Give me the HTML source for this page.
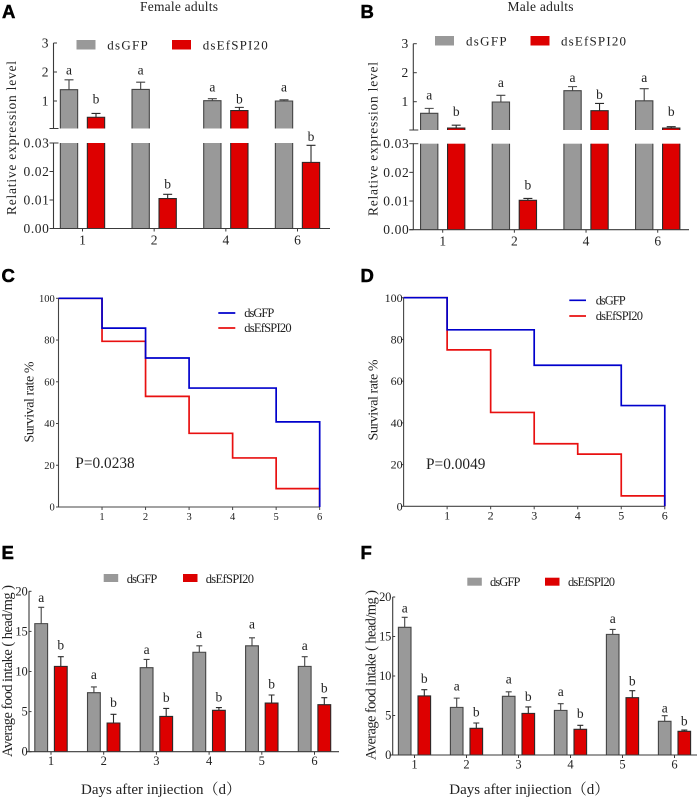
<!DOCTYPE html>
<html lang="en">
<head>
<meta charset="utf-8">
<title>Relative expression, survival and food intake charts</title>
<style>
html,body{margin:0;padding:0;background:#fff;width:700px;height:798px;overflow:hidden}
svg{display:block}
text{font-family:"Liberation Serif","Noto Serif CJK SC",serif;fill:#222}
.panel-letter{font-family:"Liberation Sans",sans-serif;font-weight:700;font-size:18.5px;fill:#000;stroke:#000;stroke-width:.5px}
</style>
</head>
<body>
<svg id="figure" xmlns="http://www.w3.org/2000/svg" width="700" height="798" viewBox="0 0 700 798">
  <rect width="700" height="798" fill="#fff"/>

  <text class="panel-letter" x="2" y="18">A</text>
  <text class="panel-letter" x="360.5" y="18">B</text>
  <text class="panel-letter" x="1.5" y="282">C</text>
  <text class="panel-letter" x="360.5" y="282">D</text>
  <text class="panel-letter" x="1.5" y="559">E</text>
  <text class="panel-letter" x="360.5" y="559">F</text>

  <text x="179" y="11" font-size="13.5" text-anchor="middle" textLength="78">Female adults</text>
  <text x="540.5" y="11" font-size="13.5" text-anchor="middle" textLength="66">Male adults</text>

  <!-- Y axis titles -->
  <text transform="rotate(-90 16 138)" x="16" y="138" font-size="13.5" text-anchor="middle" textLength="154">Relative expression level</text>
  <text transform="rotate(-90 377.5 139)" x="377.5" y="139" font-size="13.5" text-anchor="middle" textLength="154">Relative expression level</text>
  <text transform="rotate(-90 33.5 402)" x="33.5" y="402" font-size="14" text-anchor="middle" textLength="81">Survival rate %</text>
  <text transform="rotate(-90 377.5 400)" x="377.5" y="400" font-size="14" text-anchor="middle" textLength="81">Survival rate %</text>
  <text transform="rotate(-90 12 671)" x="12" y="671" font-size="14.5" text-anchor="middle" textLength="172">Average food intake ( head/mg )</text>
  <text transform="rotate(-90 375.5 675)" x="375.5" y="675" font-size="14.5" text-anchor="middle" textLength="170">Average food intake ( head/mg )</text>

  <!-- X axis titles -->
  <text x="81" y="794" font-size="15">Days after injiection（d）</text>
  <text x="449.3" y="794" font-size="15">Days after injiection（d）</text>

  <!-- Legends: bar panels -->
  <g>
    <rect x="76.5" y="40" width="19" height="9.5" fill="#999"/>
    <text x="107.3" y="49.5" font-size="13" textLength="40.4">dsGFP</text>
    <rect x="172" y="40" width="19" height="9.5" fill="#dd0000"/>
    <text x="202.7" y="49.5" font-size="13" textLength="65">dsEfSPI20</text>
  </g>
  <g>
    <rect x="435" y="36" width="19" height="9.5" fill="#999"/>
    <text x="466" y="45.5" font-size="13" textLength="40.6">dsGFP</text>
    <rect x="530.5" y="36" width="19" height="9.5" fill="#dd0000"/>
    <text x="561" y="45.5" font-size="13" textLength="65">dsEfSPI20</text>
  </g>
  <g>
    <rect x="103.7" y="574" width="14.5" height="8" fill="#999"/>
    <text x="126.7" y="583" font-size="12.5" textLength="30.6">dsGFP</text>
    <rect x="183" y="574" width="14.5" height="8" fill="#dd0000"/>
    <text x="205.7" y="583" font-size="12.5" textLength="48.3">dsEfSPI20</text>
  </g>
  <g>
    <rect x="467.3" y="577.7" width="14.5" height="8" fill="#999"/>
    <text x="490" y="586" font-size="12.5" textLength="30.4">dsGFP</text>
    <rect x="545" y="577.7" width="14.5" height="8" fill="#dd0000"/>
    <text x="568" y="586" font-size="12.5" textLength="47">dsEfSPI20</text>
  </g>

  <!-- Legends: survival panels -->
  <g>
    <line x1="218.3" x2="235.3" y1="313" y2="313" stroke="#0000cc" stroke-width="1.7"/>
    <text x="244.3" y="317" font-size="12.5" textLength="30">dsGFP</text>
    <line x1="218.3" x2="235.3" y1="328" y2="328" stroke="#e81010" stroke-width="1.7"/>
    <text x="244.3" y="332" font-size="12.5" textLength="47.3">dsEfSPI20</text>
  </g>
  <g>
    <line x1="569.3" x2="586" y1="300.3" y2="300.3" stroke="#0000cc" stroke-width="1.7"/>
    <text x="595.7" y="304.3" font-size="12.5" textLength="30">dsGFP</text>
    <line x1="569.3" x2="586" y1="316" y2="316" stroke="#e81010" stroke-width="1.7"/>
    <text x="595.7" y="320" font-size="12.5" textLength="47.3">dsEfSPI20</text>
  </g>

  <text x="75.3" y="468" font-size="15.3" textLength="59.4">P=0.0238</text>
  <text x="426" y="469" font-size="15.3" textLength="59.4">P=0.0049</text>

  <g id="marks"></g>
</svg>

<script>
// ---------- Panel A ----------
const aCategories = ['1', '2', '4', '6'];
const aGray = [1.39, 1.40, 1.01, 1.00];
const aGrayErr = [1.73, 1.65, 1.08, 1.04];
const aRed = [0.44, 0.0105, 0.67, 0.0232];
const aRedErr = [0.57, 0.012, 0.78, 0.0292];
const aGrayLetterAt = [2.03, 2.03, 1.45, 1.45];
const aRedLetterAt = [1.03, 0.0153, 1.03, 0.0319];

// ---------- Panel B ----------
const bCategories = ['1', '2', '4', '6'];
const bGray = [0.60, 0.99, 1.38, 1.03];
const bGrayErr = [0.77, 1.22, 1.52, 1.45];
const bRed = [0.09, 0.01025, 0.69, 0.09];
const bRedErr = [0.19, 0.0109, 0.94, 0.14];
const bGrayLetterAt = [1.2, 1.63, 1.81, 1.81];
const bRedLetterAt = [0.63, 0.0153, 1.21, 0.63];

// ---------- Broken axis ticks (A, B) ----------
const upperTicks = [1, 2, 3];
const upperTickLabels = ['1', '2', '3'];
const lowerTicks = [0, 0.01, 0.02, 0.03];
const lowerTickLabels = ['0.00', '0.01', '0.02', '0.03'];

// ---------- Panels C, D (survival per day) ----------
const survivalDays = [0, 1, 2, 3, 4, 5, 6];
const survivalDayLabels = ['', '1', '2', '3', '4', '5', '6'];
const survivalTicks = [0, 20, 40, 60, 80, 100];
const cBlue = [100, 85.7, 71.4, 57, 57, 40.8, 0];
const cRed = [100, 79.4, 53, 35.3, 23.5, 8.8, 0];
const dBlue = [100, 84.6, 84.6, 67.6, 67.6, 48.3, 0];
const dRed = [100, 75, 45, 30, 25, 5, 0];

// ---------- Panel E ----------
const eCategories = ['1', '2', '3', '4', '5', '6'];
const eGray = [15.97, 7.36, 10.48, 12.4, 13.2, 10.64];
const eGrayErr = [18.0, 8.07, 11.5, 13.2, 14.2, 11.85];
const eRed = [10.64, 3.58, 4.4, 5.16, 6.07, 5.86];
const eRedErr = [11.85, 4.66, 5.4, 5.5, 7.07, 6.74];
const eGrayLetterAt = [19.13, 9.5, 12.6, 14.6, 15.8, 13.1];
const eRedLetterAt = [13.2, 6, 6.65, 6.7, 8.36, 7.86];

// ---------- Panel F ----------
const fCategories = ['1', '2', '3', '4', '5', '6'];
const fGray = [16.16, 6.03, 7.43, 5.65, 15.27, 4.26];
const fGrayErr = [17.43, 7.2, 8.0, 6.5, 15.9, 4.98];
const fRed = [7.47, 3.38, 5.27, 3.25, 7.26, 3.0];
const fRedErr = [8.27, 4.05, 6.08, 3.76, 8.14, 3.16];
const fGrayLetterAt = [18.5, 8.6, 9.5, 7.93, 17.17, 5.86];
const fRedLetterAt = [9.54, 5.3, 7.3, 5.15, 9.24, 4.2];

const foodTicks = [0, 5, 10, 15, 20];
const foodTickLabels = ['0', '5', '10', '15', '20'];

const SVGNS = 'http://www.w3.org/2000/svg';
const root = document.getElementById('marks');
const BREAK_VALUE = 0.05;

function node(tag, parent, attrs) {
  const el = document.createElementNS(SVGNS, tag);
  for (const k in attrs) el.setAttribute(k, attrs[k]);
  
  parent.appendChild(el);
  return el;
}

function group(parent, name) {
  const el = node('g', parent, {});
  
  return el;
}

function axisLine(parent, x1, y1, x2, y2, color, width) {
  const el = node('line', parent, { x1: x1, y1: y1, x2: x2, y2: y2, stroke: color, 'stroke-width': width });
  
  return el;
}

function tickMark(parent, x1, y1, x2, y2, color, width) {
  const el = node('line', parent, { x1: x1, y1: y1, x2: x2, y2: y2, stroke: color, 'stroke-width': width });
  
  return el;
}

function tickLabel(parent, x, y, str, size, anchor, spacing) {
  const el = node('text', parent, { x: x, y: y, 'font-size': size, 'text-anchor': anchor, 'letter-spacing': spacing });
  
  el.textContent = str;
  return el;
}

function drawSeries(g, cfg, yScale, segments, values, errs, letterAt, letter, center, fill, stroke, capHalf) {
  values.forEach(function (v, i) {
    const x = center(i);
    const left = x - cfg.barW / 2;
    const right = x + cfg.barW / 2;
    const barTop = yScale(v);
    segments(v).forEach(function (seg) {
      const bar = node('rect', g, { x: left, y: seg.top, width: cfg.barW, height: seg.bottom - seg.top, fill: fill });
      
      const d = seg.closedTop
        ? 'M' + left + ' ' + seg.bottom + 'V' + seg.top + 'H' + right + 'V' + seg.bottom
        : 'M' + left + ' ' + seg.top + 'V' + seg.bottom + 'M' + right + ' ' + seg.top + 'V' + seg.bottom;
      const outline = node('path', g, { d: d, fill: 'none', stroke: stroke, 'stroke-width': 1.1 });
      
    });
    const errTop = yScale(errs[i]);
    const err = node('path', g, {
      d: 'M' + x + ' ' + barTop + 'V' + errTop + 'M' + (x - capHalf) + ' ' + errTop + 'H' + (x + capHalf),
      fill: 'none', stroke: stroke, 'stroke-width': 1.1
    });
    
    const lab = node('text', g, { x: x, y: yScale(letterAt[i]) + 3.6, 'font-size': cfg.letterSize, 'text-anchor': 'middle' });
    
    lab.textContent = letter;
  });
}

function drawBrokenPanel(cfg, name, cats, gray, grayErr, red, redErr, grayLetters, redLetters) {
  const g = group(root, name);
  const y = function (v) {
    return v < BREAK_VALUE ? cfg.lowerBase - v * cfg.lowerK : cfg.upperBase - v * cfg.upperK;
  };
  const segments = function (v) {
    if (v < BREAK_VALUE) return [{ top: y(v), bottom: cfg.lowerBase, closedTop: true }];
    return [
      { top: y(0.03), bottom: cfg.lowerBase, closedTop: false },
      { top: y(v), bottom: cfg.breakY, closedTop: true }
    ];
  };
  const mid = function (i) { return cfg.x0 + i * cfg.step; };
  drawSeries(g, cfg, y, segments, gray, grayErr, grayLetters, 'a', function (i) { return mid(i) - cfg.off; }, '#999', '#444', 4.5);
  drawSeries(g, cfg, y, segments, red, redErr, redLetters, 'b', function (i) { return mid(i) + cfg.off; }, '#dd0000', '#2a2a2a', 4.5);

  const c = '#3a3a3a';
  axisLine(g, cfg.axisX, y(3), cfg.axisX, cfg.breakY, c, 1.1);
  axisLine(g, cfg.axisX, y(0.03), cfg.axisX, cfg.lowerBase, c, 1.1);
  axisLine(g, cfg.axisX - 4, cfg.lowerBase, cfg.xEnd, cfg.lowerBase, c, 1.1);
  tickMark(g, cfg.axisX - 4, cfg.breakY, cfg.axisX + 5, cfg.breakY, c, 1);
  upperTicks.forEach(function (t, i) {
    tickMark(g, cfg.axisX, y(t), cfg.axisX + 3.5, y(t), c, 1);
    tickLabel(g, cfg.axisX - 5, y(t) + 4.4, upperTickLabels[i], 13.5, 'end', 0);
  });
  lowerTicks.forEach(function (t, i) {
    tickMark(g, cfg.axisX - 4, y(t), cfg.axisX + (t === 0.03 ? 5 : 0), y(t), c, 1);
    tickLabel(g, cfg.axisX - 4, y(t) + 4.4, lowerTickLabels[i], 13.5, 'end', 0.6);
  });
  cats.forEach(function (label, i) {
    tickMark(g, mid(i), cfg.lowerBase, mid(i), cfg.lowerBase + 3, c, 1);
    tickLabel(g, mid(i), cfg.lowerBase + 16, label, 13.5, 'middle', 0);
  });
}

function drawFoodPanel(cfg, name, cats, gray, grayErr, red, redErr, grayLetters, redLetters) {
  const g = group(root, name);
  const y = function (v) { return cfg.base - v * cfg.k; };
  const segments = function (v) { return [{ top: y(v), bottom: cfg.base, closedTop: true }]; };
  const mid = function (i) { return cfg.x0 + i * cfg.step; };
  drawSeries(g, cfg, y, segments, gray, grayErr, grayLetters, 'a', function (i) { return mid(i) - cfg.off; }, '#999', '#444', 3);
  drawSeries(g, cfg, y, segments, red, redErr, redLetters, 'b', function (i) { return mid(i) + cfg.off; }, '#dd0000', '#2a2a2a', 3);

  const c = '#3a3a3a';
  axisLine(g, cfg.axisX, y(20), cfg.axisX, cfg.base, c, 1.1);
  axisLine(g, cfg.axisX - 3, cfg.base, cfg.xEnd, cfg.base, c, 1.1);
  foodTicks.forEach(function (t, i) {
    tickMark(g, cfg.axisX, y(t), cfg.axisX + 2.5, y(t), c, 1);
    tickLabel(g, cfg.axisX - 1.5, y(t) + 4, foodTickLabels[i], 12.5, 'end', -0.2);
  });
  cats.forEach(function (label, i) {
    tickMark(g, mid(i), cfg.base, mid(i), cfg.base + 3, c, 1);
    tickLabel(g, mid(i), cfg.base + cfg.labelDy, label, 12.5, 'middle', 0);
  });
}

function drawSurvivalPanel(cfg, name, blue, red) {
  const g = group(root, name);
  const x = function (d) { return cfg.x0 + d * cfg.step; };
  const y = function (v) { return cfg.base - v * cfg.k; };
  const stepPath = function (s) {
    let d = 'M' + x(survivalDays[0]) + ' ' + y(s[0]);
    for (let i = 1; i < s.length; i++) d += 'H' + x(survivalDays[i]) + 'V' + y(s[i]);
    return d;
  };
  const c = '#444';
  axisLine(g, x(0), y(100), x(0), cfg.base, c, 1.1);
  axisLine(g, x(0), cfg.base, x(6), cfg.base, c, 1.1);
  survivalTicks.forEach(function (t) {
    tickMark(g, x(0) - 2.5, y(t), x(0), y(t), c, 1);
    tickLabel(g, x(0) - cfg.labelGap, y(t) + cfg.labelSize * 0.34, String(t), cfg.labelSize, 'end', 0);
  });
  survivalDays.forEach(function (d, i) {
    if (!survivalDayLabels[i]) return;
    tickMark(g, x(d), cfg.base, x(d), cfg.base + 3, c, 1);
    tickLabel(g, x(d), cfg.base + 13, survivalDayLabels[i], cfg.labelSize, 'middle', 0);
  });
  const redLine = node('path', g, { d: stepPath(red), fill: 'none', stroke: '#e81010', 'stroke-width': 1.7 });
  
  const blueLine = node('path', g, { d: stepPath(blue), fill: 'none', stroke: '#0000cc', 'stroke-width': 1.7 });
  
}

drawBrokenPanel({ axisX: 53.5, xEnd: 330, x0: 82.5, step: 71.67, off: 13.5, barW: 17.3, upperBase: 130, upperK: 29, breakY: 128.5, lowerBase: 228.5, lowerK: 2850, letterSize: 13.5 },
  'panel-a-expression-chart', aCategories, aGray, aGrayErr, aRed, aRedErr, aGrayLetterAt, aRedLetterAt);
drawBrokenPanel({ axisX: 413.3, xEnd: 689, x0: 442.7, step: 71.67, off: 13.5, barW: 17.3, upperBase: 130.7, upperK: 29, breakY: 130, lowerBase: 229.7, lowerK: 2867, letterSize: 13.5 },
  'panel-b-expression-chart', bCategories, bGray, bGrayErr, bRed, bRedErr, bGrayLetterAt, bRedLetterAt);
drawSurvivalPanel({ x0: 58.5, step: 43.53, base: 507, k: 2.087, labelSize: 10.5, labelGap: 3.7 }, 'panel-c-survival-chart', cBlue, cRed);
drawSurvivalPanel({ x0: 403.6, step: 43.53, base: 506.3, k: 2.086, labelSize: 12, labelGap: 1 }, 'panel-d-survival-chart', dBlue, dRed);
drawFoodPanel({ axisX: 29, xEnd: 339, x0: 51, step: 52.7, off: 9.8, barW: 12.8, base: 751.7, k: 8.02, labelDy: 13.5, letterSize: 13.5 },
  'panel-e-food-chart', eCategories, eGray, eGrayErr, eRed, eRedErr, eGrayLetterAt, eRedLetterAt);
drawFoodPanel({ axisX: 392.7, xEnd: 697, x0: 414.5, step: 52, off: 9.8, barW: 12.6, base: 755, k: 7.9, labelDy: 13.5, letterSize: 13.5 },
  'panel-f-food-chart', fCategories, fGray, fGrayErr, fRed, fRedErr, fGrayLetterAt, fRedLetterAt);
</script>
</body>
</html>
